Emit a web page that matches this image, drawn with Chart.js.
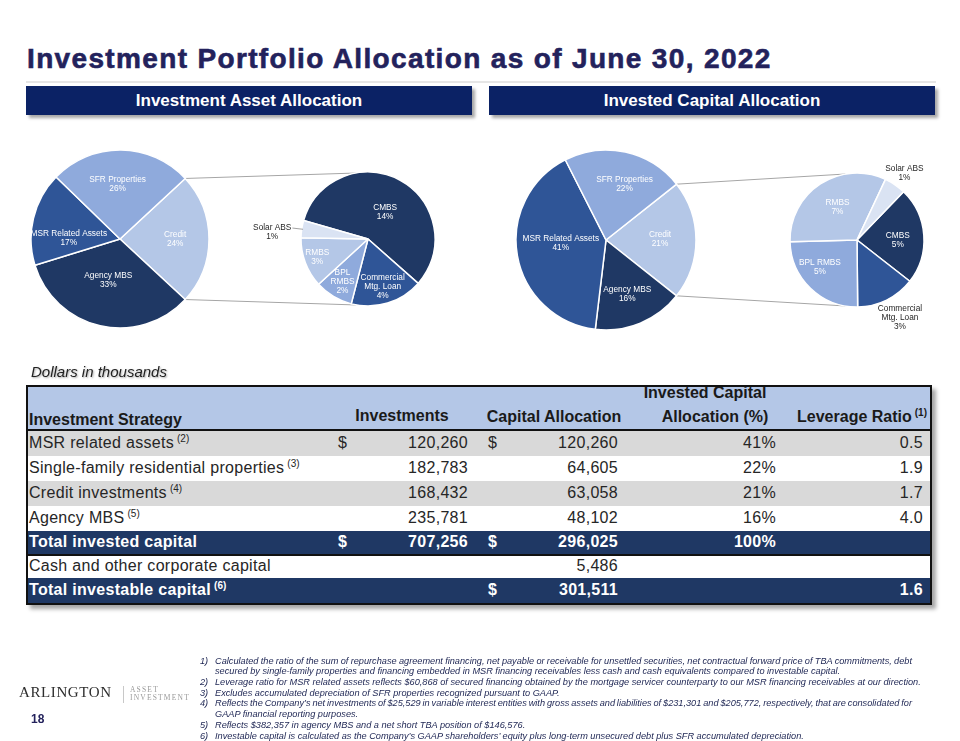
<!DOCTYPE html>
<html>
<head>
<meta charset="utf-8">
<title>Investment Portfolio Allocation as of June 30, 2022</title>
<script src="https://cdn.jsdelivr.net/npm/chart.js@4.4.1/dist/chart.umd.min.js"></script>
<style>
  html,body{margin:0;padding:0;background:#fff;}
  #page{position:relative;width:960px;height:741px;overflow:hidden;font-family:"Liberation Sans",Arial,Helvetica,sans-serif;background:#fff;}
  .abs{position:absolute;}
  #title{left:27px;top:45px;height:28px;line-height:28px;font-size:28px;font-weight:bold;color:#23225c;letter-spacing:1.35px;white-space:nowrap;-webkit-text-stroke:0.6px #23225c;}
  #rule{left:26px;top:81px;width:910px;height:2px;background:#e6e6e6;}
  .bar{top:86px;height:29px;line-height:29px;background:#0b2265;color:#fff;font-weight:bold;font-size:17px;text-align:center;box-shadow:3px 3px 3px rgba(0,0,0,0.35);white-space:nowrap;}
  #barL{left:26px;width:446px;}
  #barR{left:489px;width:446px;}
  canvas{position:absolute;}
  #dit{left:31px;top:363px;font-size:15px;font-style:italic;color:#222;text-shadow:1px 1px 2px rgba(0,0,0,0.35);line-height:18px;white-space:nowrap;}
  #tbl{left:26px;top:385px;width:906px;height:220px;box-sizing:border-box;border:2px solid #111;box-shadow:4px 4px 4px rgba(0,0,0,0.35);background:#fff;overflow:hidden;}
  .row{position:relative;width:100%;}
  .row span.c{position:absolute;top:0;white-space:nowrap;}
  .hdr{background:#b4c7e7;height:42px;border-bottom:2px solid #111;position:relative;font-weight:bold;font-size:16px;color:#1a1a1a;}
  .hdr span{position:absolute;line-height:16px;white-space:nowrap;}
  .body{font-size:16px;color:#262626;letter-spacing:0.3px;}
  .tot{background:#1f3864;color:#fff;font-weight:bold;}
  sup{font-size:10px;vertical-align:0;position:relative;top:-6px;margin-left:3px;letter-spacing:0;}
  .fn{left:0;top:0;font-size:9.2px;font-style:italic;color:#1c2452;line-height:10.7px;white-space:nowrap;}
  .fn .ln{position:absolute;white-space:nowrap;}
  #logo1{left:19px;top:683px;font-family:"Liberation Serif","Times New Roman",serif;font-size:15px;letter-spacing:0.6px;color:#2e2e2e;line-height:18px;white-space:nowrap;}
  #logoSep{left:123px;top:686px;width:1px;height:17px;background:#c8c8c8;}
  .logo2{left:130px;font-family:"Liberation Serif","Times New Roman",serif;font-size:7.5px;letter-spacing:1.2px;color:#9a9a9a;line-height:8px;white-space:nowrap;}
  #pg{left:31px;top:712px;font-size:12px;font-weight:bold;color:#23225c;line-height:14px;}
</style>
</head>
<body>
<div id="page">
  <div id="title" class="abs">Investment Portfolio Allocation as of June 30, 2022</div>
  <div id="rule" class="abs"></div>
  <div id="barL" class="abs bar">Investment Asset Allocation</div>
  <div id="barR" class="abs bar">Invested Capital Allocation</div>

  <canvas id="links" width="960" height="741" style="left:0;top:0;z-index:0;"></canvas>
  <canvas id="pieAssetMain" width="186" height="186" style="left:27px;top:146px;z-index:1;"></canvas>
  <canvas id="pieAssetCredit" width="240" height="240" style="left:248px;top:119px;z-index:1;"></canvas>
  <canvas id="pieCapMain" width="188" height="188" style="left:512px;top:146px;z-index:1;"></canvas>
  <canvas id="pieCapCredit" width="240" height="240" style="left:737px;top:120px;z-index:1;"></canvas>

  <div id="dit" class="abs">Dollars in thousands</div>
  <div id="tbl" class="abs"></div>

  <div id="fns" class="abs fn"></div>

  <div id="logo1" class="abs">ARLINGTON</div>
  <div id="logoSep" class="abs"></div>
  <div class="abs logo2" style="top:686px;">ASSET</div>
  <div class="abs logo2" style="top:694px;">INVESTMENT</div>
  <div id="pg" class="abs">18</div>
</div>

<script>
// ---------------- DATA ----------------
const categories = ['MSR Related Assets', 'SFR Properties', 'Credit', 'Agency MBS'];
const tableLabels = ['MSR related assets', 'Single-family residential properties', 'Credit investments', 'Agency MBS'];
const tableNotes = ['(2)', '(3)', '(4)', '(5)'];
const investments = [120260, 182783, 168432, 235781];
const capitalAllocation = [120260, 64605, 63058, 48102];
const leverageRatio = [0.5, 1.9, 1.7, 4.0];
const cashOtherCapital = 5486;
const totalLeverageRatio = 1.6;

const creditCategories = ['CMBS', 'Commercial Mtg. Loan', 'BPL RMBS', 'RMBS', 'Solar ABS'];
const creditAssetShare = [13.7, 4.2, 2.2, 2.9, 1.0];   // % of total investments
const creditCapitalShare = [4.9, 3.0, 5.2, 6.8, 1.1];  // % of invested capital

const footnotes = [
  ['1)', ['Calculated the ratio of the sum of repurchase agreement financing, net payable or receivable for unsettled securities, net contractual forward price of TBA commitments, debt',
          'secured by single-family properties and financing embedded in MSR financing receivables less cash and cash equivalents compared to investable capital.']],
  ['2)', ['Leverage ratio for MSR related assets reflects $60,868 of secured financing obtained by the mortgage servicer counterparty to our MSR financing receivables at our direction.']],
  ['3)', ['Excludes accumulated depreciation of SFR properties recognized pursuant to GAAP.']],
  ['4)', ['Reflects the Company\u2019s net investments of $25,529 in variable interest entities with gross assets and liabilities of $231,301 and $205,772, respectively, that are consolidated for',
          'GAAP financial reporting purposes.']],
  ['5)', ['Reflects $382,357 in agency MBS and a net short TBA position of $146,576.']],
  ['6)', ['Investable capital is calculated as the Company\u2019s GAAP shareholders\u2019 equity plus long-term unsecured debt plus SFR accumulated depreciation.']]
];

// ---------------- STYLE ----------------
const NAVY = '#1f3864', MID = '#2f5597', LIGHT = '#8faadc', PALE = '#b4c7e7', PALEST = '#dae3f3';
const catColor = {'MSR Related Assets': MID, 'SFR Properties': LIGHT, 'Credit': PALE, 'Agency MBS': NAVY};
const creditColors = [NAVY, MID, LIGHT, PALE, PALEST];
const pieOrder = [2, 3, 0, 1]; // Credit, Agency MBS, MSR, SFR clockwise
const W = '#ffffff', D = '#262626';

const labelCfg = {
  pieAssetMain:  {radial: [0.62, 0.49, 0.58, 0.62], shift: [[0,0],[-2,-1],[-1,11.5],[-3,0]], colors: [W,W,W,W]},
  pieCapMain:    {radial: [0.60, 0.65, 0.51, 0.65], shift: [[0,-1],[-1,0],[0,-4.5],[6,1.5]], colors: [W,W,W,W]},
  pieAssetCredit:{radial: [0.47, 0.75, 0.74, 0.81, 1.43], shift: [[2,1],[0,0],[0,0],[0,-1],[-1,7.7]], colors: [W,W,W,W,D], leader: [0,0,0,0,1], asShare: true,
                  names: ['CMBS', 'Commercial\nMtg. Loan', 'BPL\nRMBS', 'RMBS', 'Solar ABS']},
  pieCapCredit:  {radial: [0.61, 1.33, 0.69, 0.56, 1.22], shift: [[0,3],[3.5,-2],[-5,-5.7],[1,-1],[1,1]], colors: [W,D,W,W,D], asShare: true,
                  names: ['CMBS', 'Commercial\nMtg. Loan', 'BPL RMBS', 'RMBS', 'Solar ABS']}
};

const sliceLabels = {
  id: 'sliceLabels',
  afterDatasetsDraw(chart) {
    const o = labelCfg[chart.canvas.id];
    if (!o) return;
    const ctx = chart.ctx;
    const ds = chart.data.datasets[0];
    const total = ds.data.reduce((a, b) => a + b, 0);
    const meta = chart.getDatasetMeta(0);
    ctx.save();
    ctx.font = '8.3px "Liberation Sans", Arial, sans-serif';
    ctx.textAlign = 'center';
    ctx.textBaseline = 'middle';
    meta.data.forEach((arc, i) => {
      const p = arc.getProps(['x', 'y', 'startAngle', 'endAngle', 'outerRadius'], true);
      const mid = (p.startAngle + p.endAngle) / 2;
      const f = o.radial[i], sh = o.shift[i] || [0, 0];
      const lx = p.x + Math.cos(mid) * p.outerRadius * f + sh[0];
      const ly = p.y + Math.sin(mid) * p.outerRadius * f + sh[1];
      const pct = o.asShare ? Math.round(ds.data[i]) : Math.round(ds.data[i] / total * 100);
      const name = o.names ? o.names[i] : chart.data.labels[i];
      const lines = name.split('\n').concat(pct + '%');
      const lh = 9;
      const y0 = ly - (lines.length - 1) * lh / 2;
      ctx.fillStyle = o.colors[i];
      lines.forEach((t, k) => ctx.fillText(t, lx, y0 + k * lh));
      if (o.leader && o.leader[i]) {
        const w = ctx.measureText(lines[0]).width;
        const ex = p.x + Math.cos(mid) * p.outerRadius * 0.98;
        const ey = p.y + Math.sin(mid) * p.outerRadius * 0.98;
        ctx.strokeStyle = '#8c8c8c';
        ctx.lineWidth = 0.8;
        ctx.beginPath();
        ctx.moveTo(lx + w / 2 + 1, y0);
        ctx.lineTo(ex, ey);
        ctx.stroke();
      }
    });
    ctx.restore();
  }
};

function makePie(id, labels, data, colors, rotation, radius) {
  return new Chart(document.getElementById(id), {
    type: 'pie',
    data: {labels: labels, datasets: [{data: data, backgroundColor: colors, borderColor: '#ffffff', borderWidth: 1.5}]},
    options: {
      responsive: false, animation: false, events: [],
      rotation: rotation, circumference: 360, radius: radius,
      layout: {padding: 0},
      plugins: {legend: {display: false}, tooltip: {enabled: false}, title: {display: false}}
    },
    plugins: [sliceLabels]
  });
}

function mainRotation(values) {
  const total = values.reduce((a, b) => a + b, 0);
  return 90 - (values[2] / total * 360) / 2; // centre the Credit slice at 3 o'clock
}

const orderedLabels = pieOrder.map(i => categories[i]);
const orderedColors = pieOrder.map(i => catColor[categories[i]]);

const assetMain = makePie('pieAssetMain', orderedLabels, pieOrder.map(i => investments[i]), orderedColors, mainRotation(investments), 89);
const capMain = makePie('pieCapMain', orderedLabels, pieOrder.map(i => capitalAllocation[i]), orderedColors, mainRotation(capitalAllocation), 90);
const assetCredit = makePie('pieAssetCredit', creditCategories, creditAssetShare, creditColors, 286, 67);
const capCredit = makePie('pieCapCredit', creditCategories, creditCapitalShare, creditColors, 44, 67);

// ---------------- connector lines (pie of pie) ----------------
function arcEnd(chart, idx, which) {
  const c = chart.canvas;
  const p = chart.getDatasetMeta(0).data[idx].getProps(['x', 'y', 'startAngle', 'endAngle', 'outerRadius'], true);
  const a = which === 'start' ? p.startAngle : p.endAngle;
  return [c.offsetLeft + p.x + Math.cos(a) * p.outerRadius, c.offsetTop + p.y + Math.sin(a) * p.outerRadius];
}
function rim(chart, deg) {
  const c = chart.canvas;
  const p = chart.getDatasetMeta(0).data[0].getProps(['x', 'y', 'outerRadius'], true);
  const a = deg * Math.PI / 180;
  return [c.offsetLeft + p.x + Math.cos(a) * p.outerRadius, c.offsetTop + p.y + Math.sin(a) * p.outerRadius];
}
(function drawLinks() {
  const ctx = document.getElementById('links').getContext('2d');
  ctx.strokeStyle = '#a6a6a6';
  ctx.lineWidth = 1;
  [[assetMain, assetCredit], [capMain, capCredit]].forEach(([m, s]) => {
    const a = arcEnd(m, 0, 'start'), b = rim(s, -100);
    const c = arcEnd(m, 0, 'end'), d = rim(s, 100);
    ctx.beginPath();
    ctx.moveTo(a[0], a[1]); ctx.lineTo(b[0], b[1]);
    ctx.moveTo(c[0], c[1]); ctx.lineTo(d[0], d[1]);
    ctx.stroke();
  });
})();

// ---------------- table ----------------
const fmt = v => v.toLocaleString('en-US');
const totalInv = investments.reduce((a, b) => a + b, 0);
const totalCap = capitalAllocation.reduce((a, b) => a + b, 0);
const X0 = 28, XR = 930;
const L = x => 'left:' + (x - X0) + 'px;';
const R = x => 'right:' + (XR - x) + 'px;';

let html = '<div class="hdr">' +
  '<span style="' + L(29) + 'top:25px;">Investment Strategy</span>' +
  '<span style="left:' + (402 - X0 - 75) + 'px;width:150px;text-align:center;top:21px;">Investments</span>' +
  '<span style="left:' + (554 - X0 - 80) + 'px;width:160px;text-align:center;top:22px;">Capital Allocation</span>' +
  '<span style="left:' + (705 - X0 - 80) + 'px;width:160px;text-align:center;top:-2px;">Invested Capital</span>' +
  '<span style="left:' + (715 - X0 - 80) + 'px;width:160px;text-align:center;top:22px;">Allocation (%)</span>' +
  '<span style="' + R(927) + 'top:22px;">Leverage Ratio<sup>(1)</sup></span>' +
  '</div>';

const rows = [];
tableLabels.forEach((lab, i) => rows.push({
  label: lab, note: tableNotes[i], inv: fmt(investments[i]), cap: fmt(capitalAllocation[i]),
  pct: Math.round(capitalAllocation[i] / totalCap * 100) + '%', lev: leverageRatio[i].toFixed(1),
  invD: i === 0, capD: i === 0, bg: i % 2 === 0 ? '#d9d9d9' : '#ffffff', h: 25
}));
rows.push({label: 'Total invested capital', inv: fmt(totalInv), cap: fmt(totalCap), pct: Math.round(totalCap / totalCap * 100) + '%',
  invD: true, capD: true, tot: true, h: 23, bb: true});
rows.push({label: 'Cash and other corporate capital', cap: fmt(cashOtherCapital), bg: '#ffffff', h: 22});
rows.push({label: 'Total investable capital', note: '(6)', cap: fmt(totalCap + cashOtherCapital), lev: totalLeverageRatio.toFixed(1),
  capD: true, tot: true, h: 25});

rows.forEach(r => {
  const st = 'height:' + r.h + 'px;line-height:' + (r.h - 2) + 'px;' + (r.bg ? 'background:' + r.bg + ';' : '') +
    (r.bb ? 'border-bottom:2px solid #111;' : '');
  html += '<div class="row body' + (r.tot ? ' tot' : '') + '" style="' + st + '">';
  html += '<span class="c" style="' + L(29) + '">' + r.label + (r.note ? '<sup>' + r.note + '</sup>' : '') + '</span>';
  if (r.invD) html += '<span class="c" style="' + L(338) + '">$</span>';
  if (r.inv) html += '<span class="c" style="' + R(468) + '">' + r.inv + '</span>';
  if (r.capD) html += '<span class="c" style="' + L(488) + '">$</span>';
  if (r.cap) html += '<span class="c" style="' + R(618) + '">' + r.cap + '</span>';
  if (r.pct) html += '<span class="c" style="' + R(776) + '">' + r.pct + '</span>';
  if (r.lev) html += '<span class="c" style="' + R(923) + '">' + r.lev + '</span>';
  html += '</div>';
});
document.getElementById('tbl').innerHTML = html;

// ---------------- footnotes ----------------
(function buildFootnotes() {
  const box = document.getElementById('fns');
  let line = 0;
  const top0 = 655.6, lh = 10.7;
  footnotes.forEach(([num, lines]) => {
    const n = document.createElement('span');
    n.className = 'ln';
    n.style.left = '200px';
    n.style.top = (top0 + line * lh) + 'px';
    n.textContent = num;
    box.appendChild(n);
    lines.forEach((t, k) => {
      const s = document.createElement('span');
      s.className = 'ln';
      s.style.left = '215px';
      s.style.top = (top0 + line * lh) + 'px';
      s.textContent = t;
      box.appendChild(s);
      if (k < lines.length - 1) {
        const target = 697;
        const w = s.getBoundingClientRect().width;
        const spaces = (t.match(/ /g) || []).length;
        s.style.wordSpacing = ((target - w) / spaces) + 'px';
      }
      line++;
    });
  });
})();
</script>
</body>
</html>
